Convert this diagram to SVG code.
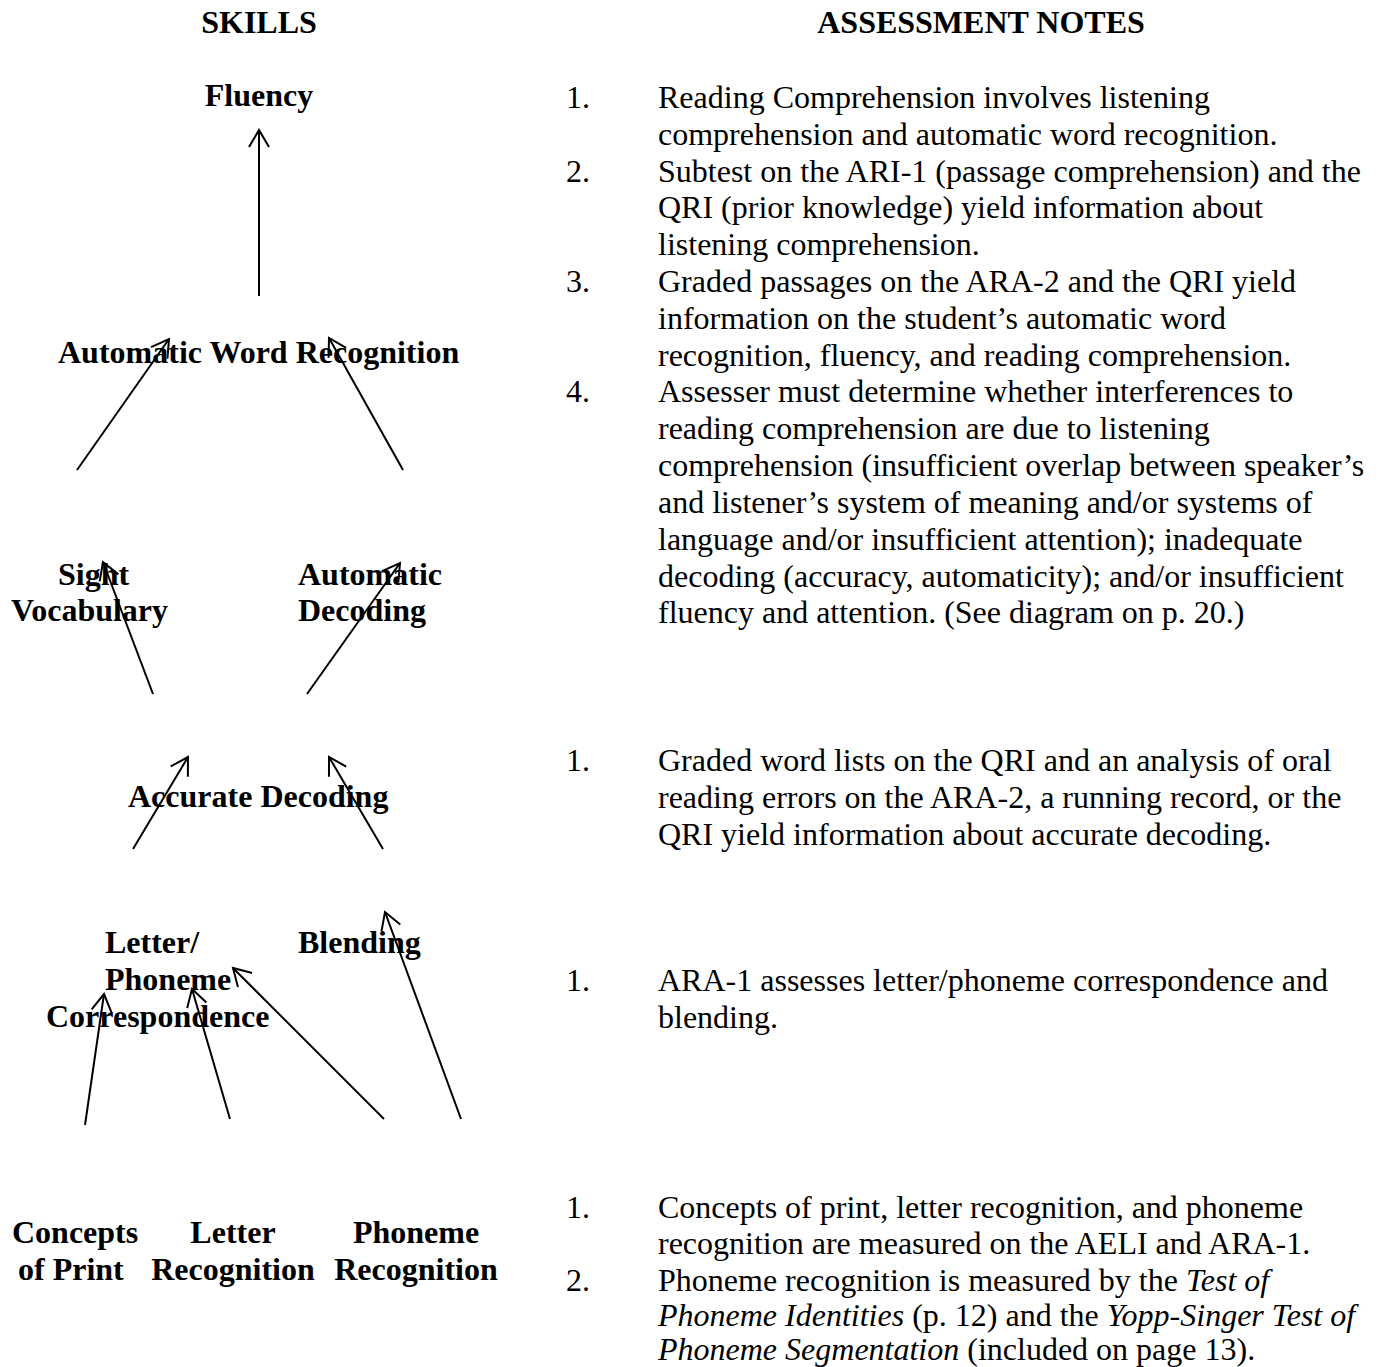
<svg xmlns="http://www.w3.org/2000/svg" width="1387" height="1367" viewBox="0 0 1387 1367">
<style>
.b{font-family:"Liberation Serif","Times New Roman",serif;font-weight:bold;font-size:32px;fill:#000}
.r{font-family:"Liberation Serif","Times New Roman",serif;font-size:32px;fill:#000}
.i{font-style:italic}
.c{stroke:#000;stroke-width:2;fill:none;marker-end:url(#ah)}
</style>
<defs>
<marker id="ah" markerUnits="userSpaceOnUse" markerWidth="40" markerHeight="40" viewBox="-20 -20 40 40" refX="0" refY="0" orient="auto" overflow="visible">
<path d="M-17,-10 L0,0 L-17,10" fill="none" stroke="#000" stroke-width="2"/>
</marker>
</defs>
<rect width="1387" height="1367" fill="#fff"/>
<g id="headers">
<text class="b" x="259" y="33" text-anchor="middle">SKILLS</text>
<text class="b" x="981" y="33" text-anchor="middle">ASSESSMENT NOTES</text>
</g>
<g id="connectors">
<line class="c" x1="259" y1="296" x2="259" y2="130"/>
<line class="c" x1="77" y1="470" x2="169" y2="339"/>
<line class="c" x1="403" y1="470" x2="329" y2="338"/>
<line class="c" x1="153" y1="694" x2="103" y2="562"/>
<line class="c" x1="307" y1="694" x2="400" y2="563"/>
<line class="c" x1="133" y1="849" x2="188" y2="757"/>
<line class="c" x1="383" y1="849" x2="329" y2="757"/>
<line class="c" x1="85" y1="1125" x2="104" y2="994"/>
<line class="c" x1="230" y1="1119" x2="192" y2="989"/>
<line class="c" x1="384" y1="1119" x2="233" y2="968"/>
<line class="c" x1="461" y1="1119" x2="385" y2="912"/>
</g>
<g id="fluency"><text class="b" x="259" y="106" text-anchor="middle">Fluency</text></g>
<g id="automatic-word-recognition"><text class="b" x="58" y="363">Automatic Word Recognition</text></g>
<g id="sight-vocabulary"><text class="b" x="58" y="585">Sight</text><text class="b" x="11" y="621">Vocabulary</text></g>
<g id="automatic-decoding"><text class="b" x="298" y="585">Automatic</text><text class="b" x="298" y="621">Decoding</text></g>
<g id="accurate-decoding"><text class="b" x="128" y="807">Accurate Decoding</text></g>
<g id="letter-phoneme"><text class="b" x="105" y="953">Letter/</text><text class="b" x="105" y="990">Phoneme</text><text class="b" x="46" y="1027">Correspondence</text></g>
<g id="blending"><text class="b" x="298" y="953">Blending</text></g>
<g id="concepts-of-print"><text class="b" x="12" y="1243">Concepts</text><text class="b" x="18" y="1280">of Print</text></g>
<g id="letter-recognition"><text class="b" x="233" y="1243" text-anchor="middle">Letter</text><text class="b" x="233" y="1280" text-anchor="middle">Recognition</text></g>
<g id="phoneme-recognition"><text class="b" x="416" y="1243" text-anchor="middle">Phoneme</text><text class="b" x="416" y="1280" text-anchor="middle">Recognition</text></g>
<g id="notes-1">
<text class="r" x="566" y="108">1.</text>
<text class="r" x="658" y="108">Reading Comprehension involves listening</text>
<text class="r" x="658" y="145">comprehension and automatic word recognition.</text>
<text class="r" x="566" y="182">2.</text>
<text class="r" x="658" y="182">Subtest on the ARI-1 (passage comprehension) and the</text>
<text class="r" x="658" y="218">QRI (prior knowledge) yield information about</text>
<text class="r" x="658" y="255">listening comprehension.</text>
<text class="r" x="566" y="292">3.</text>
<text class="r" x="658" y="292">Graded passages on the ARA-2 and the QRI yield</text>
<text class="r" x="658" y="329">information on the student’s automatic word</text>
<text class="r" x="658" y="366">recognition, fluency, and reading comprehension.</text>
<text class="r" x="566" y="402">4.</text>
<text class="r" x="658" y="402">Assesser must determine whether interferences to</text>
<text class="r" x="658" y="439">reading comprehension are due to listening</text>
<text class="r" x="658" y="476">comprehension (insufficient overlap between speaker’s</text>
<text class="r" x="658" y="513">and listener’s system of meaning and/or systems of</text>
<text class="r" x="658" y="550">language and/or insufficient attention); inadequate</text>
<text class="r" x="658" y="587">decoding (accuracy, automaticity); and/or insufficient</text>
<text class="r" x="658" y="623">fluency and attention. (See diagram on p. 20.)</text>
</g>
<g id="notes-2">
<text class="r" x="566" y="771">1.</text>
<text class="r" x="658" y="771">Graded word lists on the QRI and an analysis of oral</text>
<text class="r" x="658" y="808">reading errors on the ARA-2, a running record, or the</text>
<text class="r" x="658" y="845">QRI yield information about accurate decoding.</text>
</g>
<g id="notes-3">
<text class="r" x="566" y="991">1.</text>
<text class="r" x="658" y="991">ARA-1 assesses letter/phoneme correspondence and</text>
<text class="r" x="658" y="1028">blending.</text>
</g>
<g id="notes-4">
<text class="r" x="566" y="1218">1.</text>
<text class="r" x="658" y="1218">Concepts of print, letter recognition, and phoneme</text>
<text class="r" x="658" y="1254">recognition are measured on the AELI and ARA-1.</text>
<text class="r" x="566" y="1291">2.</text>
<text class="r" x="658" y="1291">Phoneme recognition is measured by the <tspan class="i">Test of</tspan></text>
<text class="r" x="658" y="1326"><tspan class="i">Phoneme Identities</tspan> (p. 12) and the <tspan class="i">Yopp-Singer Test of</tspan></text>
<text class="r" x="658" y="1360"><tspan class="i">Phoneme Segmentation</tspan> (included on page 13).</text>
</g>
</svg>
